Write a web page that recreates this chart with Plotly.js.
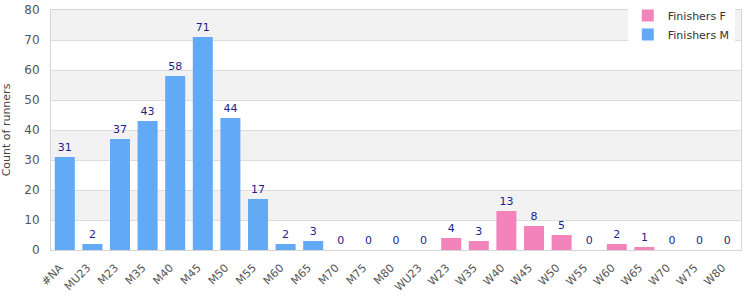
<!DOCTYPE html>
<html>
<head>
<meta charset="utf-8">
<script src="https://cdn.plot.ly/plotly-3.0.1.min.js"></script>
<style>html,body{margin:0;padding:0;background:#fff;}#chart{width:750px;height:300px;}</style>
</head>
<body>
<div id="chart"></div>
<script>
const categories = ["#NA","MU23","M23","M35","M40","M45","M50","M55","M60","M65","M70","M75","M80","WU23","W23","W35","W40","W45","W50","W55","W60","W65","W70","W75","W80"];
const maleCategories = ["#NA","MU23","M23","M35","M40","M45","M50","M55","M60","M65","M70","M75","M80"];
const maleValues = [31,2,37,43,58,71,44,17,2,3,0,0,0];
const femaleCategories = ["WU23","W23","W35","W40","W45","W50","W55","W60","W65","W70","W75","W80"];
const femaleValues = [0,4,3,13,8,5,0,2,1,0,0,0];
const yTicks = [0,10,20,30,40,50,60,70,80];

const labelFont = {family: "DejaVu Sans, Verdana, sans-serif", size: 11, color: "#1f1f8a"};

const traces = [
  {type: "bar", name: "Finishers F", x: femaleCategories, y: femaleValues,
   text: femaleValues.map(String), textposition: "outside", textfont: labelFont,
   cliponaxis: false, marker: {color: "#f283bb", line: {width: 0}}, hoverinfo: "x+y"},
  {type: "bar", name: "Finishers M", x: maleCategories, y: maleValues,
   text: maleValues.map(String), textposition: "outside", textfont: labelFont,
   cliponaxis: false, marker: {color: "#62aaf5", line: {width: 0}}, hoverinfo: "x+y"}
];

const shapes = [];
for (let i = 0; i < yTicks.length - 1; i++) {
  if (i % 2 === 1) {
    shapes.push({type: "rect", xref: "paper", yref: "y", x0: 0, x1: 1, y0: yTicks[i], y1: yTicks[i+1],
      fillcolor: "#f2f2f2", line: {width: 0}, layer: "below"});
  }
}

const layout = {
  width: 750, height: 300,
  margin: {l: 51, r: 9, t: 1, b: 50},
  paper_bgcolor: "#ffffff", plot_bgcolor: "#ffffff",
  font: {family: "DejaVu Sans, Verdana, sans-serif", size: 11, color: "#444"},
  barmode: "overlay",
  bargap: 0.275,
  shapes: shapes,
  showlegend: true,
  legend: {x: 0.991, xanchor: "right", y: 1.0, yanchor: "top",
    bgcolor: "#ffffff", font: {size: 11, color: "#333"}, traceorder: "normal",
    tracegroupgap: 0, itemwidth: 30},
  xaxis: {type: "category", categoryorder: "array", categoryarray: categories,
    tickangle: -45, tickfont: {size: 11, color: "#555"}, showline: true, linecolor: "#d6d6d6",
    mirror: true, showgrid: false, ticks: "", ticklabelstandoff: 6, ticklabelshift: -5,
    automargin: false},
  yaxis: {domain: [0, 240 / 249], range: [0, 80], tickvals: yTicks, ticktext: yTicks.map(String), showgrid: true,
    gridcolor: "#dddddd", showline: true, linecolor: "#d6d6d6", mirror: true, zeroline: false,
    tickfont: {size: 12, color: "#555"}, ticks: "", ticklabelstandoff: 8,
    title: {text: "Count of runners", font: {size: 11, color: "#444"}, standoff: 22}, automargin: false}
};

Plotly.newPlot("chart", traces, layout, {displayModeBar: false, staticPlot: true});
</script>
</body>
</html>
